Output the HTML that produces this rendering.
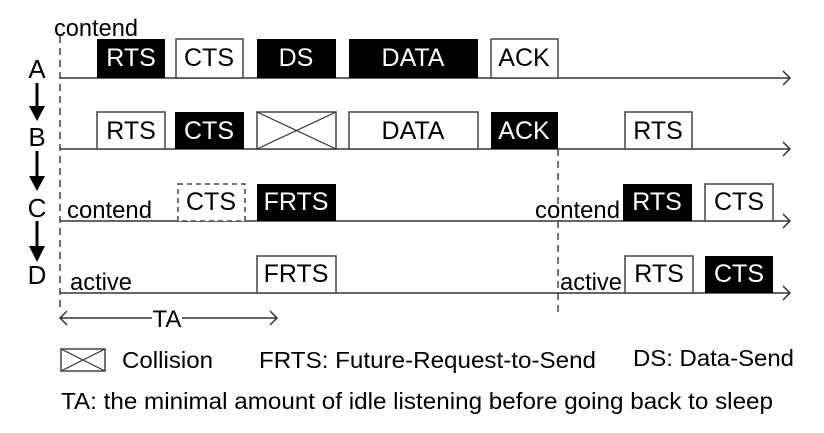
<!DOCTYPE html>
<html><head><meta charset="utf-8"><style>
html,body{margin:0;padding:0;background:#fff;}
svg{display:block;font-family:"Liberation Sans",Arial,sans-serif;}
</style></head><body>
<svg width="824" height="433" viewBox="0 0 824 433" xmlns="http://www.w3.org/2000/svg">
<g stroke="#333" stroke-width="1.5" fill="none">
<line x1="60" y1="78" x2="790" y2="78"/><polyline points="783,71 790,78 783,85"/>
<line x1="60" y1="149" x2="790" y2="149"/><polyline points="783,142 790,149 783,156"/>
<line x1="60" y1="221" x2="790" y2="221"/><polyline points="783,214 790,221 783,228"/>
<line x1="60" y1="293" x2="790" y2="293"/><polyline points="783,286 790,293 783,300"/>
<line x1="60" y1="318" x2="277" y2="318"/><polyline points="67,311 60,318 67,325"/><polyline points="270,311 277,318 270,325"/>
</g>
<g stroke="#444" stroke-width="1.5" stroke-dasharray="7,5" fill="none">
<line x1="60" y1="36" x2="60" y2="312"/>
<line x1="558" y1="149" x2="558" y2="312"/>
</g>
<rect x="152" y="306" width="30" height="22" fill="#fff"/>
<text x="167" y="327" font-size="24" text-anchor="middle">TA</text>
<g fill="#000">
<rect x="97" y="39" width="68" height="39"/>
<rect x="257" y="39" width="79" height="39"/>
<rect x="349" y="39" width="129" height="39"/>
<rect x="175" y="112" width="69" height="37"/>
<rect x="491" y="112" width="67" height="37"/>
<rect x="257" y="184" width="79" height="37"/>
<rect x="623" y="184" width="69" height="37"/>
<rect x="705" y="256" width="68" height="37"/>
</g>
<g fill="#fff" stroke="#444" stroke-width="1.5">
<rect x="176" y="39" width="67" height="39"/>
<rect x="491" y="39" width="67" height="39"/>
<rect x="97" y="112" width="68" height="37"/>
<rect x="257" y="112" width="79" height="37"/>
<rect x="349" y="112" width="129" height="37"/>
<rect x="625" y="112" width="67" height="37"/>
<rect x="705" y="184" width="68" height="37"/>
<rect x="257" y="256" width="79" height="37"/>
<rect x="625" y="256" width="68" height="37"/>
<rect x="178" y="184" width="67" height="37" stroke-dasharray="5,4"/>
<rect x="61" y="349" width="44" height="22"/>
</g>
<g stroke="#333" stroke-width="1.2">
<line x1="257" y1="112" x2="336" y2="149"/><line x1="336" y1="112" x2="257" y2="149"/>
<line x1="61" y1="349" x2="105" y2="371"/><line x1="105" y1="349" x2="61" y2="371"/>
</g>
<g font-size="25" text-anchor="middle">
<g fill="#fff">
<text x="131" y="66">RTS</text><text x="296" y="66">DS</text><text x="413" y="66">DATA</text>
<text x="209" y="139">CTS</text><text x="524" y="139">ACK</text>
<text x="296" y="210">FRTS</text><text x="657" y="210">RTS</text>
<text x="739" y="282">CTS</text>
</g>
<g fill="#000">
<text x="209" y="66">CTS</text><text x="524" y="66">ACK</text>
<text x="131" y="139">RTS</text><text x="413" y="139">DATA</text><text x="658" y="139">RTS</text>
<text x="211" y="210">CTS</text><text x="739" y="210">CTS</text>
<text x="296" y="282">FRTS</text><text x="659" y="282">RTS</text>
</g>
</g>
<g font-size="24" fill="#000">
<text x="54" y="36" textLength="84" lengthAdjust="spacingAndGlyphs">contend</text>
<text x="67" y="218" textLength="85" lengthAdjust="spacingAndGlyphs">contend</text>
<text x="535" y="218" textLength="85" lengthAdjust="spacingAndGlyphs">contend</text>
<text x="70" y="290" textLength="62" lengthAdjust="spacingAndGlyphs">active</text>
<text x="560" y="290" textLength="62" lengthAdjust="spacingAndGlyphs">active</text>
<g text-anchor="middle" font-size="26">
<text x="37" y="78">A</text><text x="37" y="146">B</text><text x="37" y="217">C</text><text x="37" y="284">D</text>
</g>
</g>
<g stroke="#000" stroke-width="3">
<line x1="37" y1="83" x2="37" y2="110"/><line x1="37" y1="151" x2="37" y2="180"/><line x1="37" y1="221" x2="37" y2="250"/>
</g>
<g fill="#000">
<polygon points="29,106 45,106 37,121"/><polygon points="29,176 45,176 37,191"/><polygon points="29,246 45,246 37,262"/>
</g>
<g font-size="23" fill="#000">
<text x="122" y="368" textLength="91" lengthAdjust="spacingAndGlyphs">Collision</text>
<text x="259" y="368" textLength="337" lengthAdjust="spacingAndGlyphs">FRTS: Future-Request-to-Send</text>
<text x="633" y="366" textLength="161" lengthAdjust="spacingAndGlyphs">DS: Data-Send</text>
<text x="61" y="409" textLength="712" lengthAdjust="spacingAndGlyphs">TA: the minimal amount of idle listening before going back to sleep</text>
</g>
</svg>
</body></html>
